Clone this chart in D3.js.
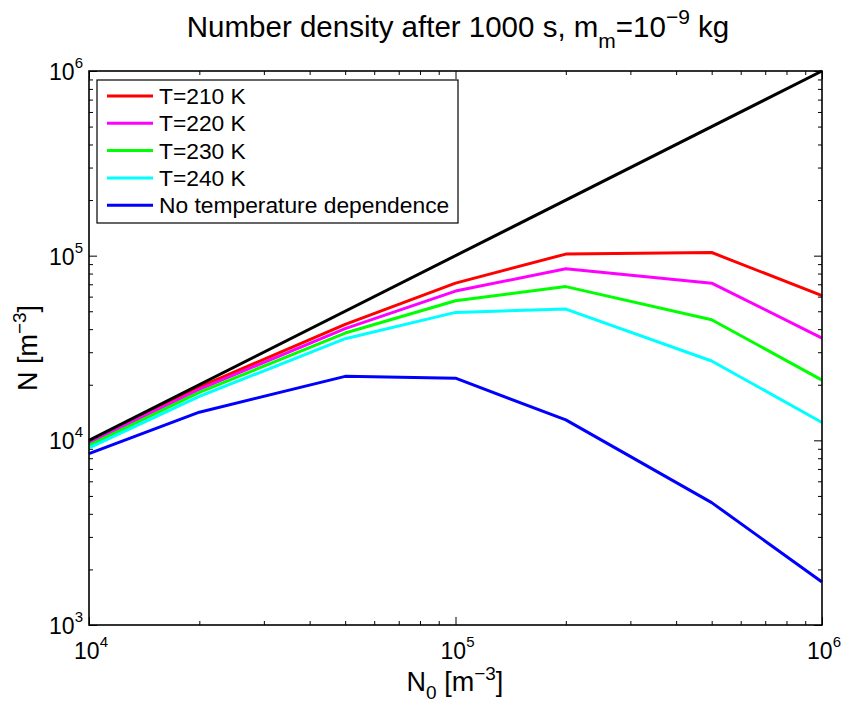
<!DOCTYPE html>
<html>
<head>
<meta charset="utf-8">
<script src="https://cdn.jsdelivr.net/npm/d3@7/dist/d3.min.js"></script>
<style>
  html, body { margin: 0; padding: 0; background: #fff; }
  svg { display: block; font-family: "Liberation Sans", Arial, Helvetica, sans-serif; }
</style>
</head>
<body>
<svg id="chart" width="841" height="705"></svg>
<script>
// ---- data ----
const n0Values = [1e4, 2e4, 5e4, 1e5, 2e5, 5e5, 1e6];
const seriesNames = ["T=210 K", "T=220 K", "T=230 K", "T=240 K", "No temperature dependence"];
const seriesColors = ["#ff0000", "#ff00ff", "#00ff00", "#00ffff", "#0000ff"];
const t210 = [9.9e3, 1.94e4, 4.25e4, 7.1e4, 1.02e5, 1.04e5, 6.07e4];
const t220 = [9.7e3, 1.89e4, 4.03e4, 6.43e4, 8.5e4, 7.1e4, 3.58e4];
const t230 = [9.4e3, 1.82e4, 3.81e4, 5.7e4, 6.8e4, 4.5e4, 2.12e4];
const t240 = [9.1e3, 1.73e4, 3.55e4, 4.93e4, 5.14e4, 2.69e4, 1.25e4];
const noTemp = [8.47e3, 1.42e4, 2.22e4, 2.17e4, 1.29e4, 4.6e3, 1.71e3];
const identityX = [1e4, 1e6];
const identityY = [1e4, 1e6];
const xTickExponents = [4, 5, 6];
const yTickExponents = [3, 4, 5, 6];

const seriesValues = [t210, t220, t230, t240, noTemp];

// ---- layout ----
const svg = d3.select("#chart");
const L = 89, R = 822, T = 71, B = 625;
const x = d3.scaleLog().domain([1e4, 1e6]).range([L, R]);
const y = d3.scaleLog().domain([1e3, 1e6]).range([B, T]);

const allXTicks = x.ticks();
const allYTicks = y.ticks();
const isMajor = v => Math.abs(Math.log10(v) - Math.round(Math.log10(v))) < 1e-9;
const xMajor = allXTicks.filter(isMajor), xMinor = allXTicks.filter(v => !isMajor(v));
const yMajor = allYTicks.filter(isMajor), yMinor = allYTicks.filter(v => !isMajor(v));

const axesG = svg.append("g");
function addAxis(gen, scale, tx, ty, vals, size) {
  const g = axesG.append("g").attr("transform", `translate(${tx},${ty})`)
    .call(gen(scale).tickValues(vals).tickSize(size).tickFormat(""));
  g.select(".domain").remove();
  g.selectAll(".tick line").attr("stroke", "#000").attr("stroke-width", 1);
}
addAxis(d3.axisBottom, x, 0, B, xMajor, -8);
addAxis(d3.axisBottom, x, 0, B, xMinor, -4);
addAxis(d3.axisTop, x, 0, T, xMajor, -8);
addAxis(d3.axisTop, x, 0, T, xMinor, -4);
addAxis(d3.axisLeft, y, L, 0, yMajor, -8);
addAxis(d3.axisLeft, y, L, 0, yMinor, -4);
addAxis(d3.axisRight, y, R, 0, yMajor, -8);
addAxis(d3.axisRight, y, R, 0, yMinor, -4);

// ---- lines ----
const line = d3.line().x(d => x(d[0])).y(d => y(d[1]));
const linesG = svg.append("g");
seriesValues.forEach((vals, i) => {
  linesG.append("path")
    .datum(n0Values.map((v, j) => [v, vals[j]]))
    .attr("d", line)
    .attr("fill", "none")
    .attr("stroke", seriesColors[i])
    .attr("stroke-width", 3)
    .attr("stroke-linejoin", "round");
});
linesG.append("path")
  .datum(identityX.map((v, j) => [v, identityY[j]]))
  .attr("d", line)
  .attr("fill", "none")
  .attr("stroke", "#000")
  .attr("stroke-width", 3);

// ---- box ----
svg.append("rect").attr("x", L).attr("y", T).attr("width", R - L).attr("height", B - T)
  .attr("fill", "none").attr("stroke", "#000").attr("stroke-width", 1.6);

// ---- tick labels ----
const tickFont = 23, supFont = 15;
xTickExponents.forEach(e => {
  const t = svg.append("text").attr("x", x(Math.pow(10, e)) + 2).attr("y", B + 34)
    .attr("text-anchor", "middle").attr("font-size", tickFont);
  t.append("tspan").text("10");
  t.append("tspan").attr("dy", -12).attr("font-size", supFont).text(e);
});
yTickExponents.forEach(e => {
  const t = svg.append("text").attr("x", L - 6).attr("y", y(Math.pow(10, e)) + 9)
    .attr("text-anchor", "end").attr("font-size", tickFont);
  t.append("tspan").text("10");
  t.append("tspan").attr("dy", -12).attr("font-size", supFont).text(e);
});

// ---- title ----
const title = svg.append("text").attr("x", 458).attr("y", 37)
  .attr("text-anchor", "middle").attr("font-size", 29.5);
title.append("tspan").text("Number density after 1000 s, m");
title.append("tspan").attr("dy", 11).attr("font-size", 21).text("m");
title.append("tspan").attr("dy", -11).text("=10");
title.append("tspan").attr("dy", -13).attr("font-size", 21).text("\u22129");
title.append("tspan").attr("dy", 13).text(" kg");

// ---- axis labels ----
const xl = svg.append("text").attr("x", 455).attr("y", 691)
  .attr("text-anchor", "middle").attr("font-size", 27);
xl.append("tspan").text("N");
xl.append("tspan").attr("dy", 8).attr("font-size", 19).text("0");
xl.append("tspan").attr("dy", -8).text(" [m");
xl.append("tspan").attr("dy", -11).attr("font-size", 19).text("\u22123");
xl.append("tspan").attr("dy", 11).text("]");

const yl = svg.append("text").attr("transform", `translate(37,${(T + B) / 2}) rotate(-90)`)
  .attr("text-anchor", "middle").attr("font-size", 27);
yl.append("tspan").text("N [m");
yl.append("tspan").attr("dy", -11).attr("font-size", 19).text("\u22123");
yl.append("tspan").attr("dy", 11).text("]");

// ---- legend ----
const lg = svg.append("g");
lg.append("rect").attr("x", 97).attr("y", 80).attr("width", 361).attr("height", 143)
  .attr("fill", "#fff").attr("stroke", "#000").attr("stroke-width", 1.2);
seriesNames.forEach((name, i) => {
  const ry = 96 + i * 27.3;
  lg.append("line").attr("x1", 107).attr("x2", 153).attr("y1", ry).attr("y2", ry)
    .attr("stroke", seriesColors[i]).attr("stroke-width", 3);
  lg.append("text").attr("x", 159).attr("y", ry + 8).attr("font-size", 22.8).text(name);
});
</script>
</body>
</html>
